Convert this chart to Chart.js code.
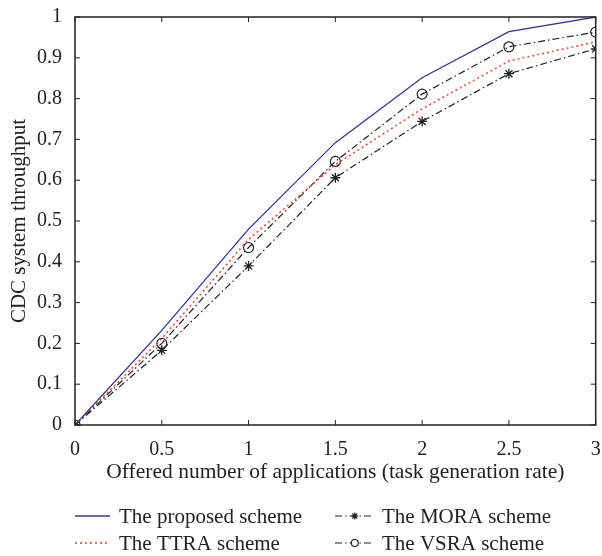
<!DOCTYPE html>
<html>
<head>
<meta charset="utf-8">
<script src="https://cdn.jsdelivr.net/npm/chart.js@4.4.1/dist/chart.umd.min.js"></script>
<style>
  html, body { margin: 0; padding: 0; background: #fff; }
  #wrap { width: 602px; height: 556px; }
</style>
</head>
<body>
<div id="wrap"><canvas id="chart" width="602" height="556"></canvas></div>
<script>
// data
const rates = [0, 0.5, 1, 1.5, 2, 2.5, 3];
const proposed = [0, 0.232, 0.48, 0.692, 0.851, 0.964, 1.0];
const ttra = [0, 0.212, 0.455, 0.638, 0.775, 0.892, 0.939];
const mora = [0, 0.183, 0.39, 0.606, 0.744, 0.861, 0.922];
const vsra = [0, 0.2, 0.435, 0.646, 0.811, 0.927, 0.963];
const xTicks = [0, 0.5, 1, 1.5, 2, 2.5, 3];
const yTicks = [0, 0.1, 0.2, 0.3, 0.4, 0.5, 0.6, 0.7, 0.8, 0.9, 1];
const seriesNames = ["The proposed scheme", "The TTRA scheme", "The MORA scheme", "The VSRA scheme"];

const FONT = "'Liberation Serif', 'DejaVu Serif', serif";
const dashDot = [7, 3, 1.5, 3];

function pts(ys) {
  return rates.map((x, i) => ({ x: x, y: ys[i] }));
}

function fmt(v) {
  return String(Math.round(v * 10) / 10);
}

// box with inward ticks on all four sides, matlab style
const frame = {
  id: "frame",
  afterDatasetsDraw(chart) {
    const ctx = chart.ctx;
    const a = chart.chartArea;
    const xs = chart.scales.x;
    const ys = chart.scales.y;
    const len = 5;
    ctx.save();
    ctx.strokeStyle = "#222";
    ctx.lineWidth = 1.5;
    ctx.strokeRect(a.left, a.top, a.right - a.left, a.bottom - a.top);
    ctx.lineWidth = 1;
    ctx.beginPath();
    xTicks.forEach(v => {
      const px = xs.getPixelForValue(v);
      ctx.moveTo(px, a.bottom); ctx.lineTo(px, a.bottom - len);
      ctx.moveTo(px, a.top); ctx.lineTo(px, a.top + len);
    });
    yTicks.forEach(v => {
      const py = ys.getPixelForValue(v);
      ctx.moveTo(a.left, py); ctx.lineTo(a.left + len, py);
      ctx.moveTo(a.right, py); ctx.lineTo(a.right - len, py);
    });
    ctx.stroke();
    ctx.restore();
  }
};

// two column legend under the axis
const legendBelow = {
  id: "legendBelow",
  afterDraw(chart) {
    const ctx = chart.ctx;
    const spots = [
      { x: 75, y: 516, w: 35 },
      { x: 75, y: 543, w: 35 },
      { x: 335, y: 516, w: 36 },
      { x: 335, y: 543, w: 36 }
    ];
    ctx.save();
    ctx.font = "21px " + FONT;
    ctx.textBaseline = "middle";
    chart.data.datasets.forEach((ds, i) => {
      const s = spots[i];
      ctx.strokeStyle = ds.borderColor;
      ctx.lineWidth = ds.borderWidth;
      ctx.setLineDash(ds.borderDash || []);
      ctx.beginPath();
      ctx.moveTo(s.x, s.y);
      ctx.lineTo(s.x + s.w, s.y);
      ctx.stroke();
      ctx.setLineDash([]);
      if (ds.pointRadius > 0) {
        ctx.fillStyle = ds.pointStyle === "circle" ? "#fff" : "#222";
        Chart.helpers.drawPoint(ctx, {
          pointStyle: ds.pointStyle,
          radius: 3.5,
          borderWidth: 1.2,
          rotation: 0
        }, s.x + s.w * 0.55, s.y);
      }
      ctx.fillStyle = "#222";
      ctx.fillText(ds.label, i < 2 ? 119 : 382, s.y + 1);
    });
    ctx.restore();
  }
};

new Chart(document.getElementById("chart"), {
  type: "line",
  data: {
    datasets: [
      {
        label: seriesNames[0],
        data: pts(proposed),
        borderColor: "#34349a",
        borderWidth: 1.3,
        pointRadius: 0
      },
      {
        label: seriesNames[1],
        data: pts(ttra),
        borderColor: "#f0452a",
        borderWidth: 1.5,
        borderDash: [2, 3],
        pointRadius: 0
      },
      {
        label: seriesNames[2],
        data: pts(mora),
        borderColor: "#222",
        borderWidth: 1.2,
        borderDash: dashDot,
        pointStyle: "star",
        pointRadius: 5,
        pointBorderWidth: 1.3,
        pointBorderColor: "#222",
        pointBackgroundColor: "#222"
      },
      {
        label: seriesNames[3],
        data: pts(vsra),
        borderColor: "#222",
        borderWidth: 1.2,
        borderDash: dashDot,
        pointStyle: "circle",
        pointRadius: 5,
        pointBorderWidth: 1.2,
        pointBorderColor: "#222",
        pointBackgroundColor: "rgba(0,0,0,0)"
      }
    ]
  },
  options: {
    responsive: false,
    animation: false,
    events: [],
    layout: { padding: { left: 0, right: 4, top: 14, bottom: 71 } },
    plugins: {
      legend: { display: false },
      tooltip: { enabled: false }
    },
    scales: {
      x: {
        type: "linear",
        min: 0,
        max: 3,
        afterBuildTicks: s => { s.ticks = xTicks.map(v => ({ value: v })); },
        afterFit: s => { s.height = 60; s.paddingRight = 0; },
        grid: { display: false },
        border: { display: false },
        ticks: { color: "#222", font: { family: FONT, size: 20 }, padding: 5, maxRotation: 0, callback: fmt },
        title: {
          display: true,
          text: "Offered number of applications (task generation rate)",
          color: "#222",
          font: { family: FONT, size: 21.5 },
          padding: { top: 0, bottom: 0 }
        }
      },
      y: {
        min: 0,
        max: 1,
        afterBuildTicks: s => { s.ticks = yTicks.map(v => ({ value: v })); },
        afterFit: s => { s.width = 75; },
        grid: { display: false },
        border: { display: false },
        ticks: { color: "#222", font: { family: FONT, size: 20 }, padding: 5, callback: fmt },
        title: {
          display: true,
          text: "CDC system throughput",
          color: "#222",
          font: { family: FONT, size: 21 },
          padding: { top: 7, bottom: 0 }
        }
      }
    }
  },
  plugins: [frame, legendBelow]
});
</script>
</body>
</html>
